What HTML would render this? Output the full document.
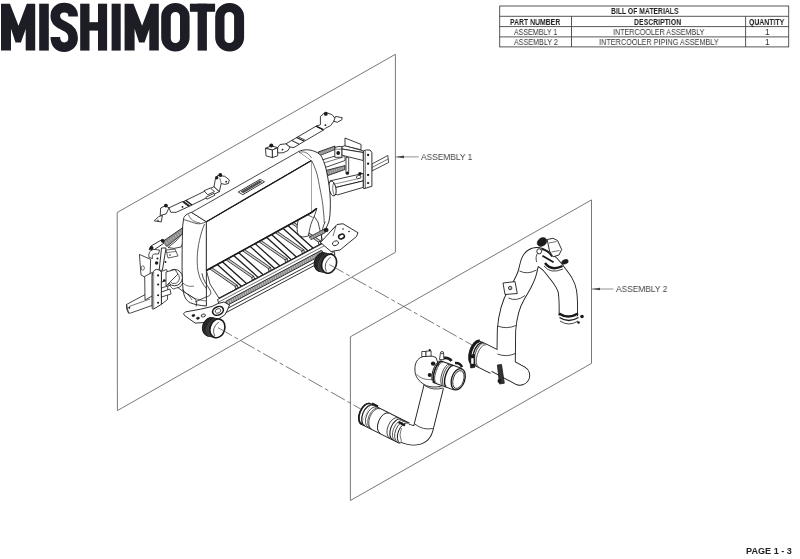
<!DOCTYPE html>
<html><head><meta charset="utf-8">
<style>
html,body{margin:0;padding:0;background:#fff;}
body{width:800px;height:559px;position:relative;overflow:hidden;font-family:"Liberation Sans",sans-serif;}
svg{position:absolute;left:0;top:0;}
.t{position:absolute;white-space:nowrap;color:#333;will-change:transform;}
</style></head>
<body>
<svg width="800" height="559" viewBox="0 0 800 559">
<!-- LOGO -->
<g fill="#1d1d26">
<path id="mM" d="M1,3.7 L9.9,3.7 L18.5,25.8 L26.8,3.7 L35.2,3.7 L35.2,50.6 L25.7,50.6 L25.7,29 L20.9,42.4 L15.5,42.4 L11,28.7 L11,50.6 L1,50.6 Z"/>
<rect x="39.2" y="3.7" width="9.6" height="46.9"/>
<rect x="80.2" y="3.7" width="9.3" height="46.9"/>
<rect x="98" y="3.7" width="9.1" height="46.9"/>
<rect x="85" y="22.2" width="18" height="8.4"/>
<rect x="111.6" y="3.7" width="9.1" height="46.9"/>
<use href="#mM" x="123.6"/>
<path fill-rule="evenodd" d="M161.2,17 A14.2,14 0 0 1 189.6,17 L189.6,37.6 A14.2,14 0 0 1 161.2,37.6 Z M170.8,16.6 A4.6,4.6 0 0 1 180,16.6 L180,38.5 A4.6,4.6 0 0 1 170.8,38.5 Z"/>
<rect x="189.9" y="3.7" width="25.2" height="8.1"/>
<rect x="197.6" y="3.7" width="9.3" height="46.9"/>
<path fill-rule="evenodd" d="M215.2,17 A14.45,14 0 0 1 244.1,17 L244.1,37.6 A14.45,14 0 0 1 215.2,37.6 Z M224.5,16.6 A4.8,4.6 0 0 1 234.1,16.6 L234.1,38.5 A4.8,4.6 0 0 1 224.5,38.5 Z"/>
</g>
<path fill="none" stroke="#1d1d26" stroke-width="9.6" d="M73.2,16.5 C73.2,10 69,7.6 64.2,7.6 C59,7.6 55.3,10.5 55.3,16 C55.3,22 60,24 64.2,26 C69,28.2 73.1,31 73.1,38 C73.1,44 69,47.2 64.2,47.2 C59,47.2 55.3,44 55.3,37"/>

<!-- TABLE -->
<g fill="none" stroke="#444" stroke-width="0.9">
<rect x="499.7" y="6" width="289" height="40.9"/>
<line x1="499.7" y1="16.3" x2="788.7" y2="16.3"/>
<line x1="499.7" y1="26.6" x2="788.7" y2="26.6"/>
<line x1="499.7" y1="36.9" x2="788.7" y2="36.9"/>
<line x1="571.5" y1="16.3" x2="571.5" y2="46.9"/>
<line x1="745.6" y1="16.3" x2="745.6" y2="46.9"/>
</g>

<!-- PLANES -->
<g fill="none" stroke="#6a6a6a" stroke-width="0.9">
<path d="M117.2,212.5 L395.4,54.3 L395.4,252.3 L117.4,410.6 Z"/>
<path d="M350.4,336.8 L591.5,199.9 L591.5,363.4 L350.4,500.5 Z"/>
</g>
<!-- leaders -->
<g fill="none" stroke="#777" stroke-width="0.8">
<line x1="396" y1="156.9" x2="418.7" y2="156.9"/>
<line x1="592" y1="289" x2="613.5" y2="289"/>
</g>
<g fill="#444">
<path d="M395.8,156.9 L404,155.6 L404,158.2 Z"/>
<path d="M591.9,289 L600,287.7 L600,290.3 Z"/>
</g>
<path d="M154.30,220.90 L158.60,216.60 L162.40,215.50 L161.30,221.90 Z" fill="#fff" stroke="#1a1a1a" stroke-width="0.85" stroke-linejoin="round" />
<path d="M160.20,215.50 L160.70,208.00 L165.00,205.80 L169.00,207.80 L166.10,213.90 Z" fill="#fff" stroke="#1a1a1a" stroke-width="0.85" stroke-linejoin="round" />
<path d="M169.00,207.80 L182.50,201.50 L188.80,206.50 L176.20,212.30 L170.80,212.30 Z" fill="#fff" stroke="#1a1a1a" stroke-width="0.85" stroke-linejoin="round" />
<path d="M182.50,202.00 L214.00,186.70 L219.40,191.60 L188.80,206.50 Z" fill="#fff" stroke="#1a1a1a" stroke-width="0.85" stroke-linejoin="round" />
<path d="M183.50,201.50 L189.60,206.10" fill="none" stroke="#1a1a1a" stroke-width="1.4" stroke-linejoin="round" />
<path d="M185.80,200.40 L191.90,205.00" fill="none" stroke="#1a1a1a" stroke-width="1.4" stroke-linejoin="round" />
<path d="M204.00,190.70 L210.40,188.00 L214.50,191.60 L207.70,194.80 Z" fill="#fff" stroke="#1a1a1a" stroke-width="0.8" stroke-linejoin="round" />
<path d="M205.90,197.20 L214.00,193.30 L214.90,195.20 L206.90,199.20 Z" fill="#fff" stroke="#1a1a1a" stroke-width="0.8" stroke-linejoin="round" />
<path d="M214.00,186.70 L215.40,179.00 L217.60,175.40 L224.80,176.30 L229.30,179.90 L228.40,183.50 L224.80,184.40 L221.20,183.50 L219.40,191.60 Z" fill="#fff" stroke="#1a1a1a" stroke-width="0.85" stroke-linejoin="round" />
<path d="M221.20,183.50 L219.80,178.00" fill="none" stroke="#1a1a1a" stroke-width="0.6" stroke-linejoin="round" />
<circle cx="165.9" cy="205.6" r="1.9" fill="#1a1a1a" stroke="none" stroke-width="0"/>
<circle cx="216.7" cy="177.7" r="1.7" fill="#1a1a1a" stroke="none" stroke-width="0"/>
<circle cx="220.3" cy="175" r="1.9" fill="#1a1a1a" stroke="none" stroke-width="0"/>
<circle cx="182.5" cy="206.9" r="0.9" fill="#1a1a1a" stroke="none" stroke-width="0"/>
<circle cx="226.2" cy="181.7" r="0.9" fill="#1a1a1a" stroke="none" stroke-width="0"/>
<circle cx="158" cy="220.3" r="0.7" fill="#1a1a1a" stroke="none" stroke-width="0"/>
<path d="M265.50,148.30 L271.30,145.90 L277.70,147.70 L272.40,150.00 Z" fill="#fff" stroke="#1a1a1a" stroke-width="0.85" stroke-linejoin="round" />
<path d="M265.50,148.30 L272.40,150.00 L272.40,157.60 L266.00,155.80 Z" fill="#fff" stroke="#1a1a1a" stroke-width="0.85" stroke-linejoin="round" />
<path d="M272.40,150.00 L277.70,147.70 L277.70,155.80 L272.40,157.60 Z" fill="#fff" stroke="#1a1a1a" stroke-width="0.85" stroke-linejoin="round" />
<path d="M277.70,147.70 L280.00,144.50 L286.00,143.80 L290.00,147.00 L288.00,150.50 L283.00,152.80 L277.70,152.90 Z" fill="#fff" stroke="#1a1a1a" stroke-width="0.85" stroke-linejoin="round" />
<path d="M286.00,143.80 L291.80,140.40 L299.30,144.20 L294.00,147.50 L290.00,147.00 Z" fill="#fff" stroke="#1a1a1a" stroke-width="0.85" stroke-linejoin="round" />
<path d="M291.80,140.40 L316.20,126.10 L323.70,129.90 L299.30,144.20 Z" fill="#fff" stroke="#1a1a1a" stroke-width="0.85" stroke-linejoin="round" />
<path d="M296.40,137.50 L304.00,141.00" fill="none" stroke="#1a1a1a" stroke-width="1.3" stroke-linejoin="round" />
<path d="M297.90,136.60 L305.30,140.20" fill="none" stroke="#1a1a1a" stroke-width="0.8" stroke-linejoin="round" />
<path d="M316.20,126.10 L320.40,124.80 L320.40,116.40 L325.40,112.20 L332.10,114.70 L335.50,118.90 L330.50,125.70 L325.40,128.20 L323.70,129.90 Z" fill="#fff" stroke="#1a1a1a" stroke-width="0.85" stroke-linejoin="round" />
<path d="M316.50,126.30 L323.20,129.60" fill="none" stroke="#1a1a1a" stroke-width="1.4" stroke-linejoin="round" />
<path d="M335.50,116.40 L342.20,117.70 L341.80,119.80 L337.20,122.30 L333.80,121.20 Z" fill="#fff" stroke="#1a1a1a" stroke-width="0.85" stroke-linejoin="round" />
<circle cx="271.3" cy="145.6" r="2.0" fill="#1a1a1a" stroke="none" stroke-width="0"/>
<circle cx="325.8" cy="113.9" r="1.9" fill="#1a1a1a" stroke="none" stroke-width="0"/>
<circle cx="282.5" cy="149.6" r="0.9" fill="#1a1a1a" stroke="none" stroke-width="0"/>
<circle cx="325.4" cy="125.2" r="0.9" fill="#1a1a1a" stroke="none" stroke-width="0"/>
<path d="M371.90,164.00 L387.80,155.50 L388.60,162.50 L371.90,171.00 Z" fill="#fff" stroke="#1a1a1a" stroke-width="0.8" stroke-linejoin="round" />
<path d="M371.90,167.50 L388.20,159.00" fill="none" stroke="#1a1a1a" stroke-width="0.6" stroke-linejoin="round" />
<path d="M345.00,138.00 L361.00,144.40 L361.00,149.80 L345.00,146.00 Z" fill="#fff" stroke="#1a1a1a" stroke-width="0.85" stroke-linejoin="round" />
<path d="M318.10,152.00 L335.00,146.00 L335.00,149.50 L320.00,155.50 Z" fill="#8c8c8c" stroke="#1a1a1a" stroke-width="0.8" stroke-linejoin="round" />
<path d="M319.50,153.00 L320.30,155.20" fill="none" stroke="#eee" stroke-width="0.45" stroke-linejoin="round" />
<path d="M321.50,152.24 L322.30,154.44" fill="none" stroke="#eee" stroke-width="0.45" stroke-linejoin="round" />
<path d="M323.50,151.48 L324.30,153.68" fill="none" stroke="#eee" stroke-width="0.45" stroke-linejoin="round" />
<path d="M325.50,150.72 L326.30,152.92" fill="none" stroke="#eee" stroke-width="0.45" stroke-linejoin="round" />
<path d="M327.50,149.96 L328.30,152.16" fill="none" stroke="#eee" stroke-width="0.45" stroke-linejoin="round" />
<path d="M329.50,149.20 L330.30,151.40" fill="none" stroke="#eee" stroke-width="0.45" stroke-linejoin="round" />
<path d="M331.50,148.44 L332.30,150.64" fill="none" stroke="#eee" stroke-width="0.45" stroke-linejoin="round" />
<path d="M333.50,147.68 L334.30,149.88" fill="none" stroke="#eee" stroke-width="0.45" stroke-linejoin="round" />
<path d="M322.00,160.00 L341.80,154.00 L345.00,157.30 L345.00,160.50 L326.70,167.00 L323.50,165.00 Z" fill="#fff" stroke="#1a1a1a" stroke-width="0.8" stroke-linejoin="round" />
<path d="M323.50,163.00 L343.50,157.00" fill="none" stroke="#1a1a1a" stroke-width="0.6" stroke-linejoin="round" />
<path d="M326.00,170.50 L345.00,165.50 L345.00,169.50 L328.00,175.50 Z" fill="#8c8c8c" stroke="#1a1a1a" stroke-width="0.8" stroke-linejoin="round" />
<path d="M327.50,171.50 L328.30,173.90" fill="none" stroke="#eee" stroke-width="0.45" stroke-linejoin="round" />
<path d="M329.70,170.83 L330.50,173.23" fill="none" stroke="#eee" stroke-width="0.45" stroke-linejoin="round" />
<path d="M331.90,170.17 L332.70,172.57" fill="none" stroke="#eee" stroke-width="0.45" stroke-linejoin="round" />
<path d="M334.10,169.50 L334.90,171.90" fill="none" stroke="#eee" stroke-width="0.45" stroke-linejoin="round" />
<path d="M336.30,168.83 L337.10,171.23" fill="none" stroke="#eee" stroke-width="0.45" stroke-linejoin="round" />
<path d="M338.50,168.17 L339.30,170.57" fill="none" stroke="#eee" stroke-width="0.45" stroke-linejoin="round" />
<path d="M340.70,167.50 L341.50,169.90" fill="none" stroke="#eee" stroke-width="0.45" stroke-linejoin="round" />
<path d="M342.90,166.83 L343.70,169.23" fill="none" stroke="#eee" stroke-width="0.45" stroke-linejoin="round" />
<path d="M330.00,180.90 L363.20,173.40 L363.20,180.90 L332.00,188.40 Z" fill="#fff" stroke="#1a1a1a" stroke-width="0.85" stroke-linejoin="round" />
<path d="M332.00,188.40 L363.20,180.90 L363.20,187.40 L337.50,194.90 L333.00,193.00 Z" fill="#fff" stroke="#1a1a1a" stroke-width="0.85" stroke-linejoin="round" />
<path d="M333.50,184.30 L361.00,178.00" fill="none" stroke="#1a1a1a" stroke-width="0.5" stroke-linejoin="round" />
<ellipse cx="332.5" cy="188.5" rx="3.4" ry="7.6" transform="rotate(-12 332.5 188.5)" fill="#fff" stroke="#1a1a1a" stroke-width="0.9"/>
<path d="M334,182 Q331,188.5 334.5,195.5" fill="none" stroke="#1a1a1a" stroke-width="0.6" stroke-linejoin="round" />
<path d="M341.80,146.60 L345.00,145.80 L363.20,150.80 L363.20,152.50 L341.80,149.00 Z" fill="#fff" stroke="#1a1a1a" stroke-width="0.85" stroke-linejoin="round" />
<path d="M341.80,149.00 L363.20,152.50 L363.20,160.50 L341.80,155.20 Z" fill="#fff" stroke="#1a1a1a" stroke-width="0.85" stroke-linejoin="round" />
<path d="M334.80,147.70 L338.00,146.50 L341.80,146.60 L341.80,157.30 L334.80,157.30 Z" fill="#fff" stroke="#1a1a1a" stroke-width="0.85" stroke-linejoin="round" />
<path d="M334.80,149.20 L341.80,149.20" fill="none" stroke="#1a1a1a" stroke-width="0.6" stroke-linejoin="round" />
<circle cx="338.2" cy="153" r="1.9" fill="#1a1a1a" stroke="none" stroke-width="0"/>
<path d="M346.00,157.30 L348.70,157.80 L348.70,173.40 L346.00,173.40 Z" fill="#fff" stroke="#1a1a1a" stroke-width="0.8" stroke-linejoin="round" />
<circle cx="347.4" cy="173.2" r="1.6" fill="#1a1a1a" stroke="none" stroke-width="0"/>
<circle cx="360" cy="173.6" r="1.7" fill="#1a1a1a" stroke="none" stroke-width="0"/>
<ellipse cx="358.7" cy="177" rx="2.4" ry="1.5" transform="rotate(-20 358.7 177)" fill="#fff" stroke="#1a1a1a" stroke-width="0.8"/>
<path d="M363.75,150.6 Q366,149.6 370,150 L371.9,152.5 L371.9,186.25 L363.75,188.75 Z" fill="#fff" stroke="#1a1a1a" stroke-width="0.9" stroke-linejoin="round" />
<path d="M365.50,151.00 L365.50,188.00" fill="none" stroke="#1a1a1a" stroke-width="0.5" stroke-linejoin="round" />
<circle cx="368.1" cy="155" r="1.15" fill="#1a1a1a" stroke="none" stroke-width="0"/>
<circle cx="368.1" cy="163.75" r="1.15" fill="#1a1a1a" stroke="none" stroke-width="0"/>
<circle cx="368.1" cy="175" r="1.15" fill="#1a1a1a" stroke="none" stroke-width="0"/>
<circle cx="368.1" cy="183.1" r="1.15" fill="#1a1a1a" stroke="none" stroke-width="0"/>
<path d="M126.50,304.50 L145.80,294.20 L152.20,296.00 L152.20,305.40 L130.70,313.00 L128.60,313.20 Z" fill="#fff" stroke="#1a1a1a" stroke-width="0.8" stroke-linejoin="round" />
<path d="M129.10,306.50 L150.00,299.00" fill="none" stroke="#1a1a1a" stroke-width="0.6" stroke-linejoin="round" />
<path d="M126.5,304.5 Q125.8,309 128.6,313.2" fill="none" stroke="#1a1a1a" stroke-width="0.8" stroke-linejoin="round" />
<circle cx="129.3" cy="307.8" r="1.0" fill="#1a1a1a" stroke="none" stroke-width="0"/>
<path d="M139.40,254.40 L150.60,259.40 L150.00,280.00 L141.00,275.00 Z" fill="#fff" stroke="#1a1a1a" stroke-width="0.8" stroke-linejoin="round" />
<ellipse cx="142.8" cy="268" rx="1.6" ry="2.2" transform="rotate(0 142.8 268)" fill="#fff" stroke="#1a1a1a" stroke-width="0.6"/>
<path d="M144.70,276.40 L152.20,272.50 L152.20,296.00 L145.00,300.00 Z" fill="#fff" stroke="#1a1a1a" stroke-width="0.8" stroke-linejoin="round" />
<path d="M149.00,249.50 L151.00,246.00 L162.40,239.40 L165.00,242.50 L153.00,250.50 Z" fill="#fff" stroke="#1a1a1a" stroke-width="0.9" stroke-linejoin="round" />
<path d="M149,257.5 C148,252.5 151,249 155,249.5 L159.5,250 L158.5,254 L154.5,254 C152.5,254 152,256 152.5,258.5 Z" fill="#fff" stroke="#1a1a1a" stroke-width="0.8" stroke-linejoin="round" />
<path d="M162.40,241.70 L182.50,227.80 L184.70,231.80 L166.80,246.60 Z" fill="#8a8a8a" stroke="#1a1a1a" stroke-width="0.8" stroke-linejoin="round" />
<path d="M164.00,243.00 L165.20,245.60" fill="none" stroke="#eee" stroke-width="0.5" stroke-linejoin="round" />
<path d="M166.24,241.39 L167.44,243.99" fill="none" stroke="#eee" stroke-width="0.5" stroke-linejoin="round" />
<path d="M168.47,239.78 L169.67,242.38" fill="none" stroke="#eee" stroke-width="0.5" stroke-linejoin="round" />
<path d="M170.71,238.16 L171.91,240.76" fill="none" stroke="#eee" stroke-width="0.5" stroke-linejoin="round" />
<path d="M172.94,236.55 L174.14,239.15" fill="none" stroke="#eee" stroke-width="0.5" stroke-linejoin="round" />
<path d="M175.18,234.94 L176.38,237.54" fill="none" stroke="#eee" stroke-width="0.5" stroke-linejoin="round" />
<path d="M177.41,233.33 L178.61,235.93" fill="none" stroke="#eee" stroke-width="0.5" stroke-linejoin="round" />
<path d="M179.65,231.72 L180.85,234.32" fill="none" stroke="#eee" stroke-width="0.5" stroke-linejoin="round" />
<path d="M181.88,230.11 L183.08,232.71" fill="none" stroke="#eee" stroke-width="0.5" stroke-linejoin="round" />
<path d="M184.70,231.00 L187.00,233.00 L181.10,247.00 L174.00,248.40 L168.00,247.50 L176.00,241.00 Z" fill="#fff" stroke="#1a1a1a" stroke-width="0.8" stroke-linejoin="round" />
<path d="M166.00,250.00 L175.00,249.00 L178.00,256.00 L168.00,258.00 Z" fill="#fff" stroke="#1a1a1a" stroke-width="0.7" stroke-linejoin="round" />
<path d="M167.00,252.50 L176.00,251.50" fill="none" stroke="#1a1a1a" stroke-width="0.6" stroke-linejoin="round" />
<path d="M161.50,248.00 L166.00,248.00 L162.40,270.30 L159.20,270.30 Z" fill="#fff" stroke="#1a1a1a" stroke-width="0.9" stroke-linejoin="round" />
<circle cx="151.6" cy="248" r="1.9" fill="#1a1a1a" stroke="none" stroke-width="0"/>
<circle cx="162.8" cy="240.8" r="1.9" fill="#1a1a1a" stroke="none" stroke-width="0"/>
<circle cx="156.6" cy="263" r="1.7" fill="#1a1a1a" stroke="none" stroke-width="0"/>
<circle cx="157.5" cy="258.5" r="1.0" fill="#1a1a1a" stroke="none" stroke-width="0"/>
<circle cx="165.5" cy="262" r="0.9" fill="#1a1a1a" stroke="none" stroke-width="0"/>
<circle cx="170" cy="255" r="0.8" fill="#1a1a1a" stroke="none" stroke-width="0"/>
<path d="M161.40,271.50 L166.50,269.50 L168.00,273.00 L167.50,299.50 L161.40,304.40 Z" fill="#fff" stroke="#1a1a1a" stroke-width="0.8" stroke-linejoin="round" />
<circle cx="164.2" cy="280.5" r="1.3" fill="#1a1a1a" stroke="none" stroke-width="0"/>
<circle cx="164.4" cy="292" r="1.3" fill="#1a1a1a" stroke="none" stroke-width="0"/>
<path d="M162.00,286.00 L167.50,284.00" fill="none" stroke="#1a1a1a" stroke-width="0.6" stroke-linejoin="round" />
<path d="M152.2,276.4 Q152.2,270.5 156.4,269.4 Q160.5,269.3 161.4,272.5 L161.4,304.4 L153.3,309.2 L152.2,308.7 Z" fill="#fff" stroke="#1a1a1a" stroke-width="0.9" stroke-linejoin="round" />
<path d="M153.70,272.00 L153.70,308.50" fill="none" stroke="#1a1a1a" stroke-width="0.5" stroke-linejoin="round" />
<circle cx="158.1" cy="275.4" r="1.05" fill="#1a1a1a" stroke="none" stroke-width="0"/>
<circle cx="158.1" cy="284.5" r="1.05" fill="#1a1a1a" stroke="none" stroke-width="0"/>
<circle cx="158.1" cy="295.2" r="1.05" fill="#1a1a1a" stroke="none" stroke-width="0"/>
<circle cx="158.1" cy="302.8" r="1.05" fill="#1a1a1a" stroke="none" stroke-width="0"/>
<path d="M161.40,282.00 L170.00,280.00 L171.00,285.00 L161.40,288.00 Z" fill="#fff" stroke="#1a1a1a" stroke-width="0.8" stroke-linejoin="round" />
<path d="M161.40,292.00 L170.00,289.00 L171.00,294.00 L161.40,297.00 Z" fill="#fff" stroke="#1a1a1a" stroke-width="0.8" stroke-linejoin="round" />
<path d="M191.6,212.4 C187,213.6 184,216 183.6,218.6 L182.7,225.8 C182.2,240 182.1,251.5 182.1,262 C182,274 182.4,285 183.3,291 C184,296 185.6,300.3 190.2,302.7 C194,304.5 200,305.5 206.4,306 L206.4,221.8 Z" fill="#fff" stroke="#1a1a1a" stroke-width="0.9" stroke-linejoin="round" />
<path d="M183.6,219.5 C188,221 192,222 196,223.5 C199,224.3 203,223.5 206.2,221.6" fill="none" stroke="#1a1a1a" stroke-width="0.7" stroke-linejoin="round" />
<path d="M188.5,214.5 C190,219.5 194,222 200,223" fill="none" stroke="#1a1a1a" stroke-width="0.6" stroke-linejoin="round" />
<path d="M204.5,224 C200.5,234 197.5,246 197.2,258 C197,270 198.5,279 206.4,288.7" fill="none" stroke="#1a1a1a" stroke-width="0.7" stroke-linejoin="round" />
<path d="M188,294 C192,298 198,300 206,301" fill="none" stroke="#1a1a1a" stroke-width="0.6" stroke-linejoin="round" />
<path d="M183,283 C186,286 190,287 194,286" fill="none" stroke="#1a1a1a" stroke-width="0.6" stroke-linejoin="round" />
<ellipse cx="174.6" cy="277.6" rx="7.8" ry="8.2" transform="rotate(0 174.6 277.6)" fill="#fff" stroke="#1a1a1a" stroke-width="0.9"/>
<ellipse cx="174.2" cy="278" rx="5.2" ry="5.6" transform="rotate(0 174.2 278)" fill="#fff" stroke="#1a1a1a" stroke-width="0.7"/>
<path d="M168,284 L173,289 L180,287 L183,283" fill="none" stroke="#1a1a1a" stroke-width="0.7" stroke-linejoin="round" />
<path d="M166.00,272.00 L175.00,269.50 L178.00,274.00 L166.00,286.00 Z" fill="#fff" stroke="#1a1a1a" stroke-width="0.8" stroke-linejoin="round" />
<path d="M177.4,287.2 C183,292 190,295 194.9,298.8 C197,301 197,304 196,306.5" fill="none" stroke="#1a1a1a" stroke-width="0.8" stroke-linejoin="round" />
<path d="M182,289 C186,293 190,296 192,300" fill="none" stroke="#1a1a1a" stroke-width="0.6" stroke-linejoin="round" />
<path d="M201.9,273.3 C203,280 207,285 210,290 C212,294 210,296 206,297 L195,302" fill="none" stroke="#1a1a1a" stroke-width="0.8" stroke-linejoin="round" />
<path d="M191.60,212.40 L298.70,151.50 L311.50,160.50 L206.40,221.80 Z" fill="#fff" stroke="#1a1a1a" stroke-width="0.8" stroke-linejoin="round" />
<path d="M206.40,221.80 L311.50,160.50 L311.50,212.50 L206.40,270.50 Z" fill="#fff" stroke="#1a1a1a" stroke-width="0.8" stroke-linejoin="round" />
<path d="M206.40,221.80 L311.50,160.50" fill="none" stroke="#1a1a1a" stroke-width="1.3" stroke-linejoin="round" />
<path d="M238.20,192.00 L260.00,179.40 L264.50,181.80 L242.80,194.70 Z" fill="#fff" stroke="#1a1a1a" stroke-width="0.85" stroke-linejoin="round" />
<path d="M241.00,191.60 L259.60,180.80 L261.80,182.00 L243.20,192.90 Z" fill="#4a4a4a" stroke="#1a1a1a" stroke-width="0.4" stroke-linejoin="round" />
<path d="M242.50,191.60 L243.00,192.50" fill="none" stroke="#ccc" stroke-width="0.4" stroke-linejoin="round" />
<path d="M244.50,190.44 L245.00,191.34" fill="none" stroke="#ccc" stroke-width="0.4" stroke-linejoin="round" />
<path d="M246.50,189.27 L247.00,190.17" fill="none" stroke="#ccc" stroke-width="0.4" stroke-linejoin="round" />
<path d="M248.50,188.11 L249.00,189.01" fill="none" stroke="#ccc" stroke-width="0.4" stroke-linejoin="round" />
<path d="M250.50,186.94 L251.00,187.84" fill="none" stroke="#ccc" stroke-width="0.4" stroke-linejoin="round" />
<path d="M252.50,185.78 L253.00,186.68" fill="none" stroke="#ccc" stroke-width="0.4" stroke-linejoin="round" />
<path d="M254.50,184.61 L255.00,185.51" fill="none" stroke="#ccc" stroke-width="0.4" stroke-linejoin="round" />
<path d="M256.50,183.45 L257.00,184.35" fill="none" stroke="#ccc" stroke-width="0.4" stroke-linejoin="round" />
<path d="M258.50,182.28 L259.00,183.18" fill="none" stroke="#ccc" stroke-width="0.4" stroke-linejoin="round" />
<path d="M298.7,151.5 C303,149.5 309,149 314.9,151.5 C318,152.5 320.5,154.5 322,157.5 C324.5,163 326,168 326.8,172.5 C328.5,181 330,190 330.3,200 C330.5,210 330,217 328.8,222 L325.3,230 L318,232 L311.5,212.5 L311.5,160.5 Z" fill="#fff" stroke="none" stroke-width="0" stroke-linejoin="round" />
<path d="M298.7,151.5 C303,149.5 309,149 314.9,151.5 C318,152.5 320.5,154.5 322,157.5 C324.5,163 326,168 326.8,172.5 C328.5,181 330,190 330.3,200 C330.5,210 330,217 328.8,222 L325.3,230" fill="none" stroke="#1a1a1a" stroke-width="0.9" stroke-linejoin="round" />
<path d="M311.5,160.5 C315,167 317.5,174 318.6,181.5 C320.5,192 322.5,200 323,207 C323.8,214 324.2,219 324.2,223" fill="none" stroke="#1a1a1a" stroke-width="0.7" stroke-linejoin="round" />
<path d="M299.5,152.5 C303,151 308,152 311.5,158" fill="none" stroke="#1a1a1a" stroke-width="0.6" stroke-linejoin="round" />
<path d="M206.40,270.50 L311.50,212.50 L318.00,222.00 L323.00,242.77 L219.00,298.20 L210.00,284.00 Z" fill="#fff" stroke="#1a1a1a" stroke-width="0.8" stroke-linejoin="round" />
<path d="M217.30,264.48 L241.46,286.23" fill="none" stroke="#1a1a1a" stroke-width="1.3" stroke-linejoin="round" />
<path d="M222.30,261.73 L246.53,283.53" fill="none" stroke="#1a1a1a" stroke-width="1.3" stroke-linejoin="round" />
<path d="M209.50,268.79 L235.07,286.43 L237.31,285.24 L211.70,267.58 Z" fill="#b0b0b0" stroke="#1a1a1a" stroke-width="0.75" stroke-linejoin="round" />
<path d="M210.60,268.18 L236.19,285.84" fill="none" stroke="#fff" stroke-width="0.45" stroke-linejoin="round" />
<path d="M235.07,286.43 L235.67,289.23 L237.91,288.04 L237.31,285.24 Z" fill="#d8d8d8" stroke="#1a1a1a" stroke-width="0.8" stroke-linejoin="round" />
<path d="M233.70,255.43 L258.08,277.37" fill="none" stroke="#1a1a1a" stroke-width="1.3" stroke-linejoin="round" />
<path d="M238.70,252.68 L263.14,274.67" fill="none" stroke="#1a1a1a" stroke-width="1.3" stroke-linejoin="round" />
<path d="M225.90,259.74 L251.73,277.56 L253.96,276.37 L228.10,258.52 Z" fill="#b0b0b0" stroke="#1a1a1a" stroke-width="0.75" stroke-linejoin="round" />
<path d="M227.00,259.13 L252.84,276.96" fill="none" stroke="#fff" stroke-width="0.45" stroke-linejoin="round" />
<path d="M251.73,277.56 L252.33,280.36 L254.56,279.17 L253.96,276.37 Z" fill="#d8d8d8" stroke="#1a1a1a" stroke-width="0.8" stroke-linejoin="round" />
<path d="M250.10,246.38 L274.69,268.52" fill="none" stroke="#1a1a1a" stroke-width="1.3" stroke-linejoin="round" />
<path d="M255.10,243.62 L279.76,265.82" fill="none" stroke="#1a1a1a" stroke-width="1.3" stroke-linejoin="round" />
<path d="M242.30,250.69 L268.38,268.68 L270.61,267.49 L244.50,249.47 Z" fill="#b0b0b0" stroke="#1a1a1a" stroke-width="0.75" stroke-linejoin="round" />
<path d="M243.40,250.08 L269.49,268.09" fill="none" stroke="#fff" stroke-width="0.45" stroke-linejoin="round" />
<path d="M268.38,268.68 L268.98,271.48 L271.21,270.29 L270.61,267.49 Z" fill="#d8d8d8" stroke="#1a1a1a" stroke-width="0.8" stroke-linejoin="round" />
<path d="M266.50,237.33 L291.31,259.66" fill="none" stroke="#1a1a1a" stroke-width="1.3" stroke-linejoin="round" />
<path d="M271.50,234.57 L296.37,256.96" fill="none" stroke="#1a1a1a" stroke-width="1.3" stroke-linejoin="round" />
<path d="M258.70,241.64 L285.03,259.81 L287.26,258.62 L260.90,240.42 Z" fill="#b0b0b0" stroke="#1a1a1a" stroke-width="0.75" stroke-linejoin="round" />
<path d="M259.80,241.03 L286.15,259.21" fill="none" stroke="#fff" stroke-width="0.45" stroke-linejoin="round" />
<path d="M285.03,259.81 L285.63,262.61 L287.86,261.42 L287.26,258.62 Z" fill="#d8d8d8" stroke="#1a1a1a" stroke-width="0.8" stroke-linejoin="round" />
<path d="M282.90,228.28 L307.92,250.80" fill="none" stroke="#1a1a1a" stroke-width="1.3" stroke-linejoin="round" />
<path d="M287.90,225.52 L312.99,248.10" fill="none" stroke="#1a1a1a" stroke-width="1.3" stroke-linejoin="round" />
<path d="M275.10,232.59 L301.68,250.93 L303.92,249.74 L277.30,231.37 Z" fill="#b0b0b0" stroke="#1a1a1a" stroke-width="0.75" stroke-linejoin="round" />
<path d="M276.20,231.98 L302.80,250.33" fill="none" stroke="#fff" stroke-width="0.45" stroke-linejoin="round" />
<path d="M301.68,250.93 L302.28,253.73 L304.52,252.54 L303.92,249.74 Z" fill="#d8d8d8" stroke="#1a1a1a" stroke-width="0.8" stroke-linejoin="round" />
<path d="M291.50,223.54 L318.34,242.05 L320.57,240.86 L293.70,222.32 Z" fill="#b0b0b0" stroke="#1a1a1a" stroke-width="0.75" stroke-linejoin="round" />
<path d="M292.60,222.93 L319.45,241.46" fill="none" stroke="#fff" stroke-width="0.45" stroke-linejoin="round" />
<path d="M318.34,242.05 L318.94,244.85 L321.17,243.66 L320.57,240.86 Z" fill="#d8d8d8" stroke="#1a1a1a" stroke-width="0.8" stroke-linejoin="round" />
<path d="M298.4,219.7 L311.5,212.5 L316.8,208.4 C316,212 314,217 311.8,221.8 C310.5,225 309.5,230 308.3,236.1 L302.9,237 C300.5,236.5 298.5,235 297.5,232.6 C296.8,229 297,224 298.4,219.7 Z" fill="#fff" stroke="#1a1a1a" stroke-width="0.8" stroke-linejoin="round" />
<path d="M307.40,214.70 L312.70,217.40" fill="none" stroke="#1a1a1a" stroke-width="0.7" stroke-linejoin="round" />
<path d="M325.3,221.8 C323,226 321.8,231 321.7,235.3 L321,244" fill="none" stroke="#1a1a1a" stroke-width="0.8" stroke-linejoin="round" />
<path d="M206.40,270.50 L311.50,212.50 L316.80,208.40" fill="none" stroke="#1a1a1a" stroke-width="1.7" stroke-linejoin="round" />
<path d="M219.00,298.20 L323.00,242.77" fill="none" stroke="#1a1a1a" stroke-width="0.9" stroke-linejoin="round" />
<path d="M217.50,299.50 L330.00,239.54 L335.00,254.50 L222.50,314.50 Z" fill="#fff" stroke="#1a1a1a" stroke-width="0.9" stroke-linejoin="round" />
<path d="M219.00,301.90 L331.50,241.94" fill="none" stroke="#1a1a1a" stroke-width="0.6" stroke-linejoin="round" />
<path d="M227.0,300.64 L321.0,250.53 A2.4,2.4 0 0 1 321.5,255.13 L227.5,305.24 A2.4,2.4 0 0 1 227.0,300.64 Z" fill="#8a8a8a" stroke="#1a1a1a" stroke-width="0.9" stroke-linejoin="round" />
<path d="M228.00,300.70 L228.80,304.10" fill="none" stroke="#eee" stroke-width="0.5" stroke-linejoin="round" />
<path d="M230.14,299.56 L230.94,302.96" fill="none" stroke="#eee" stroke-width="0.5" stroke-linejoin="round" />
<path d="M232.28,298.42 L233.08,301.82" fill="none" stroke="#eee" stroke-width="0.5" stroke-linejoin="round" />
<path d="M234.42,297.28 L235.22,300.68" fill="none" stroke="#eee" stroke-width="0.5" stroke-linejoin="round" />
<path d="M236.56,296.14 L237.36,299.54" fill="none" stroke="#eee" stroke-width="0.5" stroke-linejoin="round" />
<path d="M238.70,295.00 L239.50,298.40" fill="none" stroke="#eee" stroke-width="0.5" stroke-linejoin="round" />
<path d="M240.84,293.86 L241.64,297.26" fill="none" stroke="#eee" stroke-width="0.5" stroke-linejoin="round" />
<path d="M242.98,292.72 L243.78,296.12" fill="none" stroke="#eee" stroke-width="0.5" stroke-linejoin="round" />
<path d="M245.12,291.58 L245.92,294.98" fill="none" stroke="#eee" stroke-width="0.5" stroke-linejoin="round" />
<path d="M247.26,290.44 L248.06,293.84" fill="none" stroke="#eee" stroke-width="0.5" stroke-linejoin="round" />
<path d="M249.40,289.30 L250.20,292.70" fill="none" stroke="#eee" stroke-width="0.5" stroke-linejoin="round" />
<path d="M251.53,288.16 L252.33,291.56" fill="none" stroke="#eee" stroke-width="0.5" stroke-linejoin="round" />
<path d="M253.67,287.02 L254.47,290.42" fill="none" stroke="#eee" stroke-width="0.5" stroke-linejoin="round" />
<path d="M255.81,285.88 L256.61,289.28" fill="none" stroke="#eee" stroke-width="0.5" stroke-linejoin="round" />
<path d="M257.95,284.74 L258.75,288.14" fill="none" stroke="#eee" stroke-width="0.5" stroke-linejoin="round" />
<path d="M260.09,283.60 L260.89,287.00" fill="none" stroke="#eee" stroke-width="0.5" stroke-linejoin="round" />
<path d="M262.23,282.46 L263.03,285.86" fill="none" stroke="#eee" stroke-width="0.5" stroke-linejoin="round" />
<path d="M264.37,281.32 L265.17,284.72" fill="none" stroke="#eee" stroke-width="0.5" stroke-linejoin="round" />
<path d="M266.51,280.18 L267.31,283.58" fill="none" stroke="#eee" stroke-width="0.5" stroke-linejoin="round" />
<path d="M268.65,279.04 L269.45,282.44" fill="none" stroke="#eee" stroke-width="0.5" stroke-linejoin="round" />
<path d="M270.79,277.90 L271.59,281.30" fill="none" stroke="#eee" stroke-width="0.5" stroke-linejoin="round" />
<path d="M272.93,276.76 L273.73,280.16" fill="none" stroke="#eee" stroke-width="0.5" stroke-linejoin="round" />
<path d="M275.07,275.62 L275.87,279.02" fill="none" stroke="#eee" stroke-width="0.5" stroke-linejoin="round" />
<path d="M277.21,274.47 L278.01,277.87" fill="none" stroke="#eee" stroke-width="0.5" stroke-linejoin="round" />
<path d="M279.35,273.33 L280.15,276.73" fill="none" stroke="#eee" stroke-width="0.5" stroke-linejoin="round" />
<path d="M281.49,272.19 L282.29,275.59" fill="none" stroke="#eee" stroke-width="0.5" stroke-linejoin="round" />
<path d="M283.63,271.05 L284.43,274.45" fill="none" stroke="#eee" stroke-width="0.5" stroke-linejoin="round" />
<path d="M285.77,269.91 L286.57,273.31" fill="none" stroke="#eee" stroke-width="0.5" stroke-linejoin="round" />
<path d="M287.91,268.77 L288.71,272.17" fill="none" stroke="#eee" stroke-width="0.5" stroke-linejoin="round" />
<path d="M290.05,267.63 L290.85,271.03" fill="none" stroke="#eee" stroke-width="0.5" stroke-linejoin="round" />
<path d="M292.19,266.49 L292.99,269.89" fill="none" stroke="#eee" stroke-width="0.5" stroke-linejoin="round" />
<path d="M294.33,265.35 L295.13,268.75" fill="none" stroke="#eee" stroke-width="0.5" stroke-linejoin="round" />
<path d="M296.47,264.21 L297.27,267.61" fill="none" stroke="#eee" stroke-width="0.5" stroke-linejoin="round" />
<path d="M298.60,263.07 L299.40,266.47" fill="none" stroke="#eee" stroke-width="0.5" stroke-linejoin="round" />
<path d="M300.74,261.93 L301.54,265.33" fill="none" stroke="#eee" stroke-width="0.5" stroke-linejoin="round" />
<path d="M302.88,260.79 L303.68,264.19" fill="none" stroke="#eee" stroke-width="0.5" stroke-linejoin="round" />
<path d="M305.02,259.65 L305.82,263.05" fill="none" stroke="#eee" stroke-width="0.5" stroke-linejoin="round" />
<path d="M307.16,258.51 L307.96,261.91" fill="none" stroke="#eee" stroke-width="0.5" stroke-linejoin="round" />
<path d="M309.30,257.37 L310.10,260.77" fill="none" stroke="#eee" stroke-width="0.5" stroke-linejoin="round" />
<path d="M311.44,256.23 L312.24,259.63" fill="none" stroke="#eee" stroke-width="0.5" stroke-linejoin="round" />
<path d="M313.58,255.09 L314.38,258.49" fill="none" stroke="#eee" stroke-width="0.5" stroke-linejoin="round" />
<path d="M315.72,253.95 L316.52,257.35" fill="none" stroke="#eee" stroke-width="0.5" stroke-linejoin="round" />
<path d="M317.86,252.81 L318.66,256.21" fill="none" stroke="#eee" stroke-width="0.5" stroke-linejoin="round" />
<path d="M320.00,251.67 L320.80,255.07" fill="none" stroke="#eee" stroke-width="0.5" stroke-linejoin="round" />
<path d="M221.00,311.83 L333.50,252.27" fill="none" stroke="#1a1a1a" stroke-width="0.9" stroke-linejoin="round" />
<path d="M309.20,237.00 L324.40,229.00 L325.30,232.60 L311.00,239.70 Z" fill="#888" stroke="#1a1a1a" stroke-width="0.7" stroke-linejoin="round" />
<path d="M310.00,237.50 L310.60,239.70" fill="none" stroke="#eee" stroke-width="0.45" stroke-linejoin="round" />
<path d="M312.15,236.30 L312.75,238.50" fill="none" stroke="#eee" stroke-width="0.45" stroke-linejoin="round" />
<path d="M314.31,235.10 L314.91,237.30" fill="none" stroke="#eee" stroke-width="0.45" stroke-linejoin="round" />
<path d="M316.46,233.90 L317.06,236.10" fill="none" stroke="#eee" stroke-width="0.45" stroke-linejoin="round" />
<path d="M318.62,232.70 L319.22,234.90" fill="none" stroke="#eee" stroke-width="0.45" stroke-linejoin="round" />
<path d="M320.77,231.50 L321.37,233.70" fill="none" stroke="#eee" stroke-width="0.45" stroke-linejoin="round" />
<path d="M322.92,230.30 L323.52,232.50" fill="none" stroke="#eee" stroke-width="0.45" stroke-linejoin="round" />
<ellipse cx="326.1" cy="229.9" rx="2.3" ry="2.0" transform="rotate(0 326.1 229.9)" fill="#1a1a1a" stroke="#1a1a1a" stroke-width="0.4"/>
<path d="M183.60,313.70 L185.40,311.90 L200.60,309.20 L212.00,306.50 L218.00,303.50 L224.00,302.00 L229.50,305.00 L227.00,311.00 L224.70,315.00 L217.60,319.50 L209.50,322.20 L195.20,323.10 L184.50,315.50 Z" fill="#fff" stroke="#1a1a1a" stroke-width="0.9" stroke-linejoin="round" />
<ellipse cx="218" cy="310.9" rx="5.6" ry="4.1" transform="rotate(-25 218 310.9)" fill="#fff" stroke="#1a1a1a" stroke-width="1.6"/>
<ellipse cx="218" cy="310.9" rx="2.9" ry="2.1" transform="rotate(-25 218 310.9)" fill="#fff" stroke="#1a1a1a" stroke-width="0.7"/>
<ellipse cx="203.3" cy="315.5" rx="2.2" ry="1.4" transform="rotate(-15 203.3 315.5)" fill="#fff" stroke="#1a1a1a" stroke-width="0.8"/>
<ellipse cx="193.4" cy="315.5" rx="1.6" ry="1.1" transform="rotate(-15 193.4 315.5)" fill="#1a1a1a" stroke="#1a1a1a" stroke-width="0.5"/>
<ellipse cx="197.9" cy="318.2" rx="1.6" ry="1.1" transform="rotate(-15 197.9 318.2)" fill="#1a1a1a" stroke="#1a1a1a" stroke-width="0.5"/>
<path d="M320.50,242.50 L337.00,224.50 L343.00,223.75 L358.00,232.75 L356.50,236.50 L340.00,250.00 L331.00,251.50 Z" fill="#fff" stroke="#1a1a1a" stroke-width="0.9" stroke-linejoin="round" />
<ellipse cx="335.5" cy="243.25" rx="3.2" ry="2.2" transform="rotate(-25 335.5 243.25)" fill="#fff" stroke="#1a1a1a" stroke-width="0.8"/>
<ellipse cx="341.5" cy="236.5" rx="3.0" ry="2.2" transform="rotate(-25 341.5 236.5)" fill="#fff" stroke="#1a1a1a" stroke-width="1.5"/>
<circle cx="343" cy="229" r="0.8" fill="#1a1a1a" stroke="none" stroke-width="0"/>
<circle cx="349" cy="231.5" r="0.8" fill="#1a1a1a" stroke="none" stroke-width="0"/>
<path d="M332.00,230.00 L336.00,226.00 L333.00,236.00" fill="none" stroke="#1a1a1a" stroke-width="0.6" stroke-linejoin="round" />
<ellipse cx="209.9" cy="326.79999999999995" rx="7.3" ry="9.5" transform="rotate(18 209.9 326.79999999999995)" fill="#262626" stroke="#1a1a1a" stroke-width="0.9"/>
<path d="M220.34,319.36 L212.84,317.76 L206.96,335.84 L214.46,337.44 Z" fill="#262626" stroke="#1a1a1a" stroke-width="0.9" stroke-linejoin="round" />
<path d="M218.84,319.04 Q207.14,328.08 212.96,337.12" fill="none" stroke="#777" stroke-width="0.45" stroke-linejoin="round" />
<path d="M217.34,318.72 Q205.64,327.76 211.46,336.80" fill="none" stroke="#777" stroke-width="0.45" stroke-linejoin="round" />
<path d="M215.84,318.40 Q204.14,327.44 209.96,336.48" fill="none" stroke="#777" stroke-width="0.45" stroke-linejoin="round" />
<path d="M214.34,318.08 Q202.64,327.12 208.46,336.16" fill="none" stroke="#777" stroke-width="0.45" stroke-linejoin="round" />
<ellipse cx="217.4" cy="328.4" rx="7.3" ry="9.5" transform="rotate(18 217.4 328.4)" fill="#fff" stroke="#1a1a1a" stroke-width="1.6"/>
<path d="M218.84,321.86 Q210.83,328.40 214.76,335.94" fill="none" stroke="#1a1a1a" stroke-width="0.7" stroke-linejoin="round" />
<ellipse cx="321.6" cy="262.09999999999997" rx="7.2" ry="9.7" transform="rotate(18 321.6 262.09999999999997)" fill="#262626" stroke="#1a1a1a" stroke-width="0.9"/>
<path d="M332.10,254.47 L324.60,252.87 L318.60,271.33 L326.10,272.93 Z" fill="#262626" stroke="#1a1a1a" stroke-width="0.9" stroke-linejoin="round" />
<path d="M330.60,254.15 Q318.96,263.38 324.60,272.61" fill="none" stroke="#777" stroke-width="0.45" stroke-linejoin="round" />
<path d="M329.10,253.83 Q317.46,263.06 323.10,272.29" fill="none" stroke="#777" stroke-width="0.45" stroke-linejoin="round" />
<path d="M327.60,253.51 Q315.96,262.74 321.60,271.97" fill="none" stroke="#777" stroke-width="0.45" stroke-linejoin="round" />
<path d="M326.10,253.19 Q314.46,262.42 320.10,271.65" fill="none" stroke="#777" stroke-width="0.45" stroke-linejoin="round" />
<ellipse cx="329.1" cy="263.7" rx="7.2" ry="9.7" transform="rotate(18 329.1 263.7)" fill="#fff" stroke="#1a1a1a" stroke-width="1.6"/>
<path d="M330.60,256.97 Q322.62,263.70 326.40,271.43" fill="none" stroke="#1a1a1a" stroke-width="0.7" stroke-linejoin="round" />
<ellipse cx="366" cy="414" rx="6.3" ry="11.3" transform="rotate(22 366 414)" fill="#fff" stroke="#1a1a1a" stroke-width="1.0"/>
<path d="M400,431 Q421,441.5 423.9,426 L433.9,386" fill="none" stroke="#1a1a1a" stroke-width="20.6" stroke-linecap="butt" stroke-linejoin="round"/>
<path d="M366,414 L404.5,433.3" fill="none" stroke="#1a1a1a" stroke-width="23.400000000000002" stroke-linecap="butt" stroke-linejoin="round"/>
<path d="M400,431 Q421,441.5 423.9,426 L433.9,386" fill="none" stroke="#fff" stroke-width="18.8" stroke-linecap="butt" stroke-linejoin="round"/>
<path d="M366,414 L404.5,433.3" fill="none" stroke="#fff" stroke-width="21.6" stroke-linecap="butt" stroke-linejoin="round"/>
<path d="M370.12,403.80 A6.3,11.0 22 0 0 361.88,424.20" fill="none" stroke="#1a1a1a" stroke-width="1.7" stroke-linejoin="round" />
<path d="M372.98,405.23 A6.3,11.0 22 0 0 364.74,425.63" fill="none" stroke="#1a1a1a" stroke-width="1.2" stroke-linejoin="round" />
<path d="M376.56,407.03 A6.3,11.0 22 0 0 368.32,427.42" fill="none" stroke="#1a1a1a" stroke-width="0.8" stroke-linejoin="round" />
<path d="M378.79,408.15 A6.3,11.0 22 0 0 370.55,428.54" fill="none" stroke="#1a1a1a" stroke-width="0.7" stroke-linejoin="round" />
<path d="M380.04,408.77 A6.3,11.0 22 0 0 371.80,429.17" fill="none" stroke="#1a1a1a" stroke-width="0.7" stroke-linejoin="round" />
<path d="M388.72,413.12 A6.3,11.0 22 0 0 380.47,433.52" fill="none" stroke="#1a1a1a" stroke-width="1.0" stroke-linejoin="round" />
<path d="M398.19,417.87 A6.3,11.0 22 0 0 389.95,438.27" fill="none" stroke="#1a1a1a" stroke-width="0.8" stroke-linejoin="round" />
<path d="M401.05,419.30 A6.3,11.0 22 0 0 392.81,439.70" fill="none" stroke="#1a1a1a" stroke-width="1.1" stroke-linejoin="round" />
<path d="M403.65,420.60 A6.3,11.0 22 0 0 395.40,441.00" fill="none" stroke="#1a1a1a" stroke-width="0.7" stroke-linejoin="round" />
<path d="M405.88,421.72 A6.3,11.0 22 0 0 397.64,442.12" fill="none" stroke="#1a1a1a" stroke-width="0.8" stroke-linejoin="round" />
<path d="M408.56,423.06 A6.3,11.0 22 0 0 400.32,443.46" fill="none" stroke="#1a1a1a" stroke-width="1.0" stroke-linejoin="round" />
<path d="M398.5,422 L405,425.5" fill="none" stroke="#1a1a1a" stroke-width="2.2" stroke-linejoin="round" />
<path d="M372,403.5 L378,406.5" fill="none" stroke="#1a1a1a" stroke-width="2.0" stroke-linejoin="round" />
<path d="M401.5,428 Q398.5,435 401.5,441.5" fill="none" stroke="#1a1a1a" stroke-width="0.6" stroke-linejoin="round" />
<path d="M414.8,424 Q423,430.5 432.8,428.5" fill="none" stroke="#1a1a1a" stroke-width="0.8" stroke-linejoin="round" />
<path d="M424.5,385.5 Q433,391 443.3,388" fill="none" stroke="#1a1a1a" stroke-width="0.8" stroke-linejoin="round" />
<path d="M424,384.5 C419,381 415,377 414.9,370 C414.8,363 417,358.5 422.8,356.7 C427,355.5 432,355.5 436,357.5 L445,384 C440,388 430,388 424,384.5 Z" fill="#fff" stroke="#1a1a1a" stroke-width="0.9" stroke-linejoin="round" />
<path d="M416.5,374 C420,378.5 426,380 432,379.5" fill="none" stroke="#1a1a1a" stroke-width="0.6" stroke-linejoin="round" />
<path d="M421.80,356.50 L421.80,351.50 L426.00,351.50 L426.00,356.50 Z" fill="#fff" stroke="#1a1a1a" stroke-width="0.8" stroke-linejoin="round" />
<path d="M426.00,356.50 L426.00,351.20 L431.10,350.80 L431.10,356.00 Z" fill="#fff" stroke="#1a1a1a" stroke-width="0.8" stroke-linejoin="round" />
<circle cx="429.7" cy="350.2" r="1.1" fill="#1a1a1a" stroke="none" stroke-width="0"/>
<path d="M439.50,359.50 L440.50,352.50 L443.50,352.30 L443.90,359.70 Z" fill="#fff" stroke="#1a1a1a" stroke-width="0.8" stroke-linejoin="round" />
<circle cx="442" cy="352.6" r="1.2" fill="#fff" stroke="#1a1a1a" stroke-width="0.7"/>
<path d="M436.5,371.5 L458.2,379.3" fill="none" stroke="#1a1a1a" stroke-width="23.8" stroke-linecap="butt" stroke-linejoin="round"/>
<path d="M436.5,371.5 L458.2,379.3" fill="none" stroke="#fff" stroke-width="22" stroke-linecap="butt" stroke-linejoin="round"/>
<path d="M440.40,361.04 A4.2,11 18 0 0 433.60,381.96" fill="none" stroke="#1a1a1a" stroke-width="1.0" stroke-linejoin="round" />
<path d="M441.81,361.55 A4.2,11 18 0 0 435.01,382.47" fill="none" stroke="#1a1a1a" stroke-width="1.6" stroke-linejoin="round" />
<path d="M443.22,362.06 A4.2,11 18 0 0 436.42,382.98" fill="none" stroke="#1a1a1a" stroke-width="0.7" stroke-linejoin="round" />
<path d="M449.33,364.27 A4.2,11 18 0 0 442.53,385.19" fill="none" stroke="#1a1a1a" stroke-width="0.8" stroke-linejoin="round" />
<path d="M451.02,364.88 A4.2,11 18 0 0 444.22,385.80" fill="none" stroke="#1a1a1a" stroke-width="0.8" stroke-linejoin="round" />
<path d="M453.09,365.63 A4.2,11 18 0 0 446.29,386.55" fill="none" stroke="#1a1a1a" stroke-width="1.4" stroke-linejoin="round" />
<ellipse cx="458.2" cy="379.3" rx="6.6" ry="10.9" transform="rotate(18 458.2 379.3)" fill="#fff" stroke="#1a1a1a" stroke-width="1.3"/>
<ellipse cx="458.4" cy="379.5" rx="5.2" ry="9.2" transform="rotate(18 458.4 379.5)" fill="#fff" stroke="#1a1a1a" stroke-width="0.8"/>
<circle cx="433.1" cy="363.6" r="2.2" fill="#1a1a1a" stroke="none" stroke-width="0"/>
<circle cx="429.7" cy="374.9" r="2.0" fill="#1a1a1a" stroke="none" stroke-width="0"/>
<path d="M444,358 Q449,357.5 451.5,361" fill="none" stroke="#1a1a1a" stroke-width="2.8" stroke-linejoin="round" />
<path d="M455,363 Q460,362.5 462,367" fill="none" stroke="#1a1a1a" stroke-width="2.6" stroke-linejoin="round" />
<ellipse cx="476" cy="352.5" rx="5.5" ry="11.8" transform="rotate(18 476 352.5)" fill="#fff" stroke="#1a1a1a" stroke-width="1.0"/>
<path d="M493,361 L520,375.5" fill="none" stroke="#1a1a1a" stroke-width="20.3" stroke-linecap="round" stroke-linejoin="round"/>
<path d="M506,366 L506.5,330 C507.5,318 510,305 516,295.3 C520,288 526,280 528,270 C529.5,263 530.5,258.5 535,257 C540,255.5 548,261 554.4,269.4 C560,277 566,282.7 567.5,292 C568.5,300 568.5,307 568.3,316" fill="none" stroke="#1a1a1a" stroke-width="19.3" stroke-linecap="butt" stroke-linejoin="round"/>
<path d="M476,352.5 L496,362.5" fill="none" stroke="#1a1a1a" stroke-width="25.3" stroke-linecap="butt" stroke-linejoin="round"/>
<path d="M493,361 L520,375.5" fill="none" stroke="#fff" stroke-width="18.5" stroke-linecap="round" stroke-linejoin="round"/>
<path d="M506,366 L506.5,330 C507.5,318 510,305 516,295.3 C520,288 526,280 528,270 C529.5,263 530.5,258.5 535,257 C540,255.5 548,261 554.4,269.4 C560,277 566,282.7 567.5,292 C568.5,300 568.5,307 568.3,316" fill="none" stroke="#fff" stroke-width="17.5" stroke-linecap="butt" stroke-linejoin="round"/>
<path d="M476,352.5 L496,362.5" fill="none" stroke="#fff" stroke-width="23.5" stroke-linecap="butt" stroke-linejoin="round"/>
<path d="M479.65,341.28 A5.5,11.8 18 0 0 472.35,363.72" fill="none" stroke="#1a1a1a" stroke-width="3.2" stroke-linejoin="round" />
<path d="M482.55,342.83 A5.5,11.8 18 0 0 475.26,365.27" fill="none" stroke="#1a1a1a" stroke-width="1.4" stroke-linejoin="round" />
<path d="M484.05,343.63 A5.5,11.8 18 0 0 476.75,366.07" fill="none" stroke="#1a1a1a" stroke-width="0.7" stroke-linejoin="round" />
<path d="M486.25,344.80 A5.5,11.8 18 0 0 478.95,367.25" fill="none" stroke="#1a1a1a" stroke-width="0.7" stroke-linejoin="round" />
<path d="M469.90,355.00 L474.80,354.50 L474.80,367.40 L470.50,368.00 Z" fill="#1a1a1a" stroke="#1a1a1a" stroke-width="0.6" stroke-linejoin="round" />
<path d="M471.00,358.00 L473.80,358.00 L473.80,364.00 L471.00,364.00 Z" fill="#fff" stroke="#1a1a1a" stroke-width="0.4" stroke-linejoin="round" />
<path d="M497.40,365.00 L501.50,364.50 L504.30,383.20 L499.50,384.00 Z" fill="#333" stroke="#1a1a1a" stroke-width="0.8" stroke-linejoin="round" />
<circle cx="499.4" cy="381" r="1.9" fill="#1a1a1a" stroke="none" stroke-width="0"/>
<path d="M497.5,354 Q506,357.5 515.5,353.5" fill="none" stroke="#1a1a1a" stroke-width="0.8" stroke-linejoin="round" />
<path d="M497.5,326 Q506.5,329.5 516,325.5" fill="none" stroke="#1a1a1a" stroke-width="0.8" stroke-linejoin="round" />
<path d="M508.5,298 Q516.5,302 525,295.5" fill="none" stroke="#1a1a1a" stroke-width="0.8" stroke-linejoin="round" />
<path d="M519.5,271 Q527.5,275 536.5,270" fill="none" stroke="#1a1a1a" stroke-width="0.8" stroke-linejoin="round" />
<path d="M503.00,283.00 L515.00,281.60 L517.30,293.50 L505.00,294.50 Z" fill="#fff" stroke="#1a1a1a" stroke-width="0.9" stroke-linejoin="round" />
<circle cx="510.2" cy="288" r="1.7" fill="#fff" stroke="#1a1a1a" stroke-width="0.9"/>
<circle cx="510.2" cy="288" r="0.6" fill="#1a1a1a" stroke="none" stroke-width="0"/>
<path d="M536.7,262 C535.5,258 536,254.5 539.2,251.5" fill="none" stroke="#1a1a1a" stroke-width="0.8" stroke-linejoin="round" />
<ellipse cx="539.2" cy="251.3" rx="2.4" ry="2.6" transform="rotate(0 539.2 251.3)" fill="#fff" stroke="#1a1a1a" stroke-width="0.9"/>
<path d="M547.20,239.50 L553.00,238.30 L557.50,240.50 L561.70,249.50 L559.00,255.00 L553.00,256.80 L549.50,251.00 Z" fill="#fff" stroke="#1a1a1a" stroke-width="0.9" stroke-linejoin="round" />
<path d="M549.00,243.00 L556.50,241.50" fill="none" stroke="#1a1a1a" stroke-width="0.6" stroke-linejoin="round" />
<path d="M551.50,252.00 L559.50,250.50" fill="none" stroke="#1a1a1a" stroke-width="0.6" stroke-linejoin="round" />
<ellipse cx="542" cy="242" rx="5.2" ry="4.0" transform="rotate(-35 542 242)" fill="#1a1a1a" stroke="#1a1a1a" stroke-width="0.5"/>
<path d="M541.6,249.3 Q548,250.5 552,256.6" fill="none" stroke="#1a1a1a" stroke-width="1.4" stroke-linejoin="round" />
<path d="M542.40,255.80 L553.60,262.20" fill="none" stroke="#1a1a1a" stroke-width="1.8" stroke-linejoin="round" />
<path d="M545,263 Q551,271.5 562.5,266" fill="none" stroke="#1a1a1a" stroke-width="2.4" stroke-linejoin="round" />
<path d="M544,266 Q550.5,274.5 563,269" fill="none" stroke="#1a1a1a" stroke-width="0.8" stroke-linejoin="round" />
<ellipse cx="565" cy="261.8" rx="3.4" ry="2.2" transform="rotate(-20 565 261.8)" fill="#1a1a1a" stroke="#1a1a1a" stroke-width="0.5"/>
<path d="M559,313.5 Q568,319.5 578,313.5" fill="none" stroke="#1a1a1a" stroke-width="2.6" stroke-linejoin="round" />
<path d="M559.5,317.5 Q568.5,323.5 578.5,317.5" fill="none" stroke="#1a1a1a" stroke-width="1.3" stroke-linejoin="round" />
<path d="M560,321 Q569,327 578,321" fill="none" stroke="#1a1a1a" stroke-width="0.8" stroke-linejoin="round" />
<circle cx="582" cy="316.5" r="1.8" fill="#1a1a1a" stroke="none" stroke-width="0"/>
<circle cx="578.5" cy="322.5" r="1.3" fill="#1a1a1a" stroke="none" stroke-width="0"/>
<!-- dash-dot lines -->
<g fill="none" stroke="#555" stroke-width="0.8" stroke-dasharray="16 3 4 3">
<line x1="218" y1="327.7" x2="361" y2="409.2"/>
<line x1="329.5" y1="264.6" x2="472" y2="345"/>
</g>

</svg>

<div class="t" style="left:420.6px;top:152px;font-size:9px;color:#444;transform:scaleX(0.93);transform-origin:0 0;">ASSEMBLY 1</div>
<div class="t" style="left:616px;top:284px;font-size:9px;color:#444;transform:scaleX(0.93);transform-origin:0 0;">ASSEMBLY 2</div>

<div class="t" style="left:610.5px;top:6.3px;font-size:8.4px;font-weight:bold;color:#222;transform:scaleX(0.813);transform-origin:0 0;">BILL OF MATERIALS</div>
<div class="t" style="left:510.2px;top:16.6px;font-size:8.4px;font-weight:bold;color:#222;transform:scaleX(0.821);transform-origin:0 0;">PART NUMBER</div>
<div class="t" style="left:634.3px;top:16.6px;font-size:8.4px;font-weight:bold;color:#222;transform:scaleX(0.823);transform-origin:0 0;">DESCRIPTION</div>
<div class="t" style="left:749px;top:16.6px;font-size:8.4px;font-weight:bold;color:#222;transform:scaleX(0.822);transform-origin:0 0;">QUANTITY</div>
<div class="t" style="left:513.7px;top:27px;font-size:8.4px;color:#333;transform:scaleX(0.843);transform-origin:0 0;">ASSEMBLY 1</div>
<div class="t" style="left:612.5px;top:27px;font-size:8.4px;color:#333;transform:scaleX(0.855);transform-origin:0 0;">INTERCOOLER ASSEMBLY</div>
<div class="t" style="left:765.4px;top:27px;font-size:8.4px;color:#333;">1</div>
<div class="t" style="left:513.7px;top:37.3px;font-size:8.4px;color:#333;transform:scaleX(0.853);transform-origin:0 0;">ASSEMBLY 2</div>
<div class="t" style="left:598.5px;top:37.3px;font-size:8.4px;color:#333;transform:scaleX(0.87);transform-origin:0 0;">INTERCOOLER PIPING ASSEMBLY</div>
<div class="t" style="left:765.4px;top:37.3px;font-size:8.4px;color:#333;">1</div>

<div class="t" style="left:745.8px;top:546px;font-size:8.6px;font-weight:bold;color:#222;transform:scaleX(1.06);transform-origin:0 0;">PAGE 1 - 3</div>
</body></html>
